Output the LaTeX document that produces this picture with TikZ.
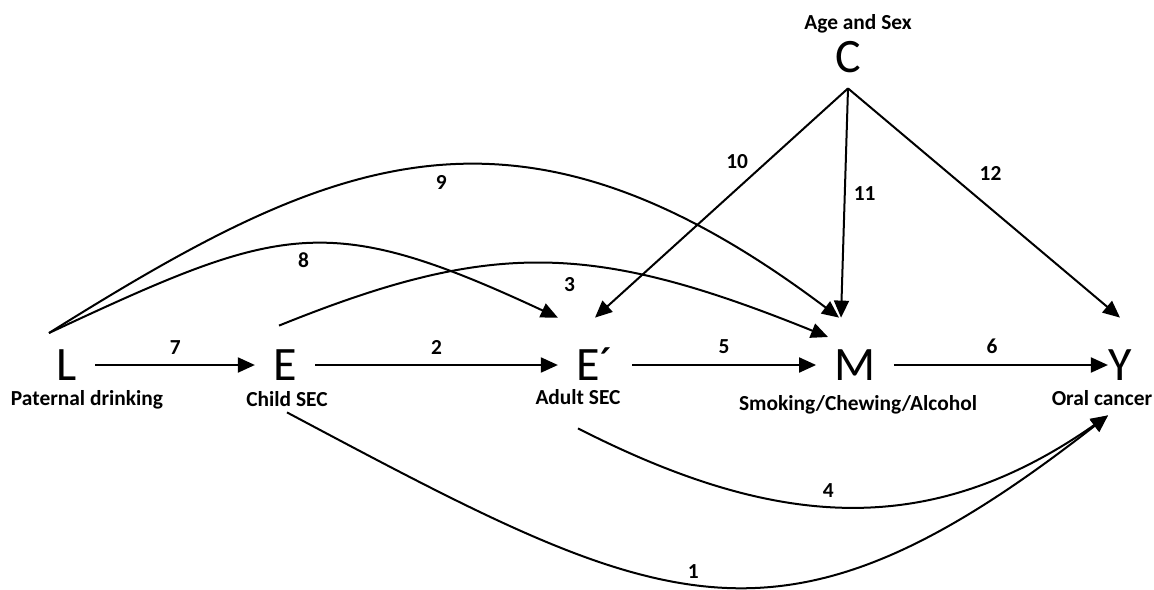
\documentclass[tikz,border=0pt]{standalone}
\usepackage{fontspec}
\setmainfont{Carlito}
\usepackage{tikz}
\usetikzlibrary{arrows.meta,positioning}

\begin{document}
\begin{tikzpicture}[
  x=0.5pt, y=-0.5pt,
  var/.style={inner xsep=9pt, inner ysep=1pt, text height=15pt, text depth=0pt, font=\fontsize{24}{24}\selectfont},
  cov/.style={var, inner ysep=8pt},
  lab/.style={inner sep=1pt, text height=7pt, text depth=2pt, font=\fontsize{10.7}{12}\selectfont\bfseries},
  num/.style={inner sep=1pt, font=\fontsize{10.7}{12}\selectfont\bfseries},
  edge/.style={black, line width=1pt, -{Triangle[length=8.5pt, width=7.5pt]}}
]
\useasboundingbox (0,0) rectangle (1154,589);

\node[var] (vL) at (67,365) {L};
\node[var] (vE) at (285,365) {E};
\node[var] (vEp) at (595,365) {E´};
\node[var] (vM) at (855,365) {M};
\node[var] (vY) at (1120,365) {Y};
\node[cov] (vC) at (848,57) {C};

\node[lab] (tL) at (87,400) {Paternal drinking};
\node[lab] (tE) at (287,401) {Child SEC};
\node[lab] (tEp) at (578,399) {Adult SEC};
\node[lab] (tM) at (858,405) {Smoking/Chewing/Alcohol};
\node[lab] (tY) at (1102,400) {Oral cancer};
\node[lab] (tC) at (858,24) {Age and Sex};

% main path
\draw[edge] (vL) -- node[num, above=4pt] {7} (vE);
\draw[edge] (vE) -- node[num, above=4pt] {2} (vEp);
\draw[edge] (vEp) -- node[num, above=4pt] {5} (vM);
\draw[edge, shorten >=-9pt] (vM) -- node[num, above=4pt] {6} (vY);

% confounder
\draw[edge] (vC.south) -- node[num, pos=0.32, left=8pt] {10} ([yshift=15pt]vEp.north);
\draw[edge] (vC.south) -- node[num, pos=0.46, right=3pt] {11} ([xshift=-7pt, yshift=15pt]vM.north);
\draw[edge] (vC.south) -- node[num, pos=0.37, right=14pt] {12} ([yshift=15pt]vY.north);

% curved paths above
\draw[edge] ([shift={(-18,-32)}]vL.center) .. controls +(32:165pt) and +(143:204pt) .. node[num, pos=0.52, below=3pt] {9} ([xshift=-8pt, yshift=15pt]vM.north);
\draw[edge] ([shift={(-18,-32)}]vL.center) .. controls +(25:128pt) and +(155:128pt) .. node[num, pos=0.5, below=3pt] {8} ([yshift=15pt]vEp.north west);
\draw[edge] ([xshift=-3pt, yshift=11pt]vE.north) .. controls +(22:115pt) and +(158:127pt) .. node[num, pos=0.55, below=5pt] {3} ([shift={(-27,-28)}]vM.center);

% curved paths below
\draw[edge] ([yshift=-9pt]tEp.south) .. controls +(-27:110pt) and +(-145:110pt) .. node[num, pos=0.46, above=3pt] {4} ([xshift=3pt, yshift=-2pt]tY.south);
\draw[edge] (tE.south) .. controls +(-28:213pt) and +(-142:210pt) .. node[num, pos=0.47, above=1pt] {1} ([xshift=3pt, yshift=-2pt]tY.south);
\end{tikzpicture}
\end{document}
